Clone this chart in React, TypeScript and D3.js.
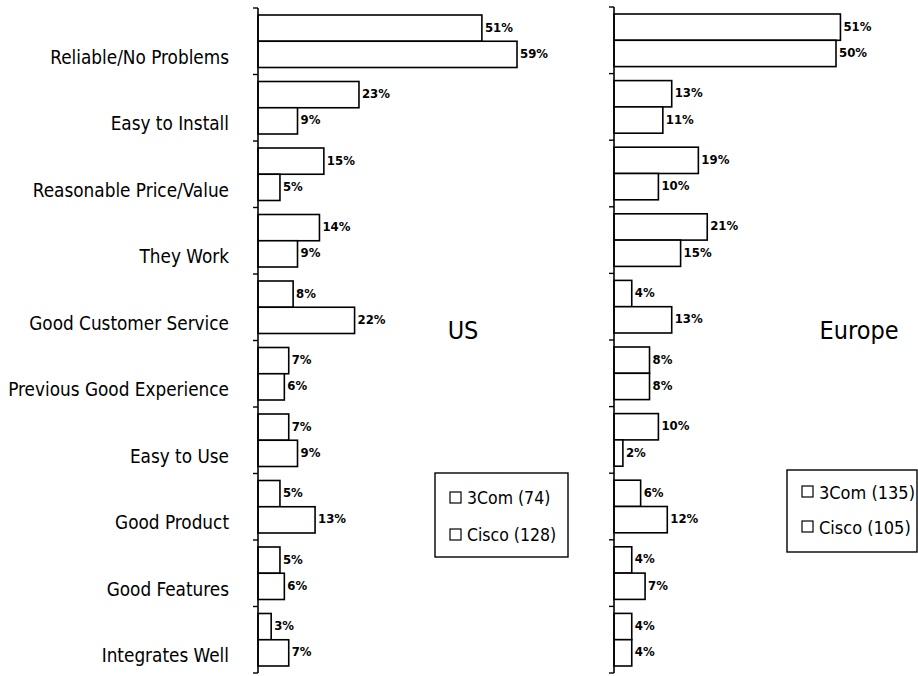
import React from "react";
import * as d3 from "d3";

const categories = [
  "Reliable/No Problems",
  "Easy to Install",
  "Reasonable Price/Value",
  "They Work",
  "Good Customer Service",
  "Previous Good Experience",
  "Easy to Use",
  "Good Product",
  "Good Features",
  "Integrates Well",
];
const series = ["3Com", "Cisco"];
const us3Com = [51, 23, 15, 14, 8, 7, 7, 5, 5, 3];
const usCisco = [59, 9, 5, 9, 22, 6, 9, 13, 6, 7];
const eu3Com = [51, 13, 19, 21, 4, 8, 10, 6, 4, 4];
const euCisco = [50, 11, 10, 15, 13, 8, 2, 12, 7, 4];
const usLegend = ["3Com (74)", "Cisco (128)"];
const euLegend = ["3Com (135)", "Cisco (105)"];

const W = 918;
const H = 676;
const LABEL_FONT = "'DejaVu Sans Condensed', 'DejaVu Sans', sans-serif";

type PanelProps = {
  x0: number;
  top: number;
  bottom: number;
  pxPerPct: number;
  a: number[];
  b: number[];
};

function Panel({ x0, top, bottom, pxPerPct, a, b }: PanelProps) {
  const y = d3.scaleBand<string>().domain(categories).range([top, bottom]).padding(0);
  const bw = y.bandwidth();
  const inner = d3.scaleBand<string>().domain(series).range([7, bw - 7]).padding(0);
  const x = d3.scaleLinear().domain([0, 60]).range([x0, x0 + 60 * pxPerPct]);
  const ticks = categories.map((c) => y(c)!).concat([bottom]);
  return (
    <g>
      {categories.map((c, i) =>
        [a[i], b[i]].map((v, j) => {
          const by = y(c)! + inner(series[j])!;
          const h = inner.bandwidth();
          return (
            <g key={c + j}>
              <rect
                x={x(0)}
                y={by}
                width={x(v) - x(0)}
                height={h}
                fill="white"
                stroke="black"
                strokeWidth={1.6}
              />
              <text
                x={x(v) + 3}
                y={by + h / 2 - 1}
                dominantBaseline="central"
                fontFamily={LABEL_FONT}
                fontWeight="bold"
                fontSize={13}
              >
                {v}%
              </text>
            </g>
          );
        })
      )}
      <line x1={x0} x2={x0} y1={top} y2={bottom} stroke="black" strokeWidth={1.6} />
      {ticks.map((t, i) => (
        <line key={i} x1={x0 - 5} x2={x0} y1={t} y2={t} stroke="black" strokeWidth={1.4} />
      ))}
    </g>
  );
}

function Legend({ x, y, w, h, items, rowY, fs }: { x: number; y: number; w: number; h: number; items: string[]; rowY: number[]; fs: number }) {
  return (
    <g>
      <rect x={x} y={y} width={w} height={h} fill="white" stroke="black" strokeWidth={1.4} />
      {items.map((t, i) => (
        <g key={t}>
          <rect x={x + 15} y={rowY[i] - 6} width={11} height={11} fill="white" stroke="black" strokeWidth={1.2} />
          <text x={x + 32} y={rowY[i]} dominantBaseline="central" fontFamily={LABEL_FONT} fontSize={fs}>
            {t}
          </text>
        </g>
      ))}
    </g>
  );
}

export default function App() {
  const yUS = d3.scaleBand<string>().domain(categories).range([8, 673]);
  return (
    <svg
      width={W}
      height={H}
      style={{ position: "absolute", left: 0, top: 0, display: "block", background: "white" }}
    >
      <rect x={0} y={0} width={W} height={H} fill="white" />
      {categories.map((c) => (
        <text
          key={c}
          x={229}
          y={yUS(c)! + yUS.bandwidth() / 2 + 16}
          textAnchor="end"
          dominantBaseline="central"
          fontFamily={LABEL_FONT}
          fontSize={18.8}
        >
          {c}
        </text>
      ))}
      <Panel x0={258} top={8} bottom={673} pxPerPct={4.39} a={us3Com} b={usCisco} />
      <Panel x0={614} top={7} bottom={673} pxPerPct={4.44} a={eu3Com} b={euCisco} />
      <text x={463} y={330} textAnchor="middle" dominantBaseline="central" fontFamily={LABEL_FONT} fontSize={25}>
        US
      </text>
      <text x={859} y={330} textAnchor="middle" dominantBaseline="central" fontFamily={LABEL_FONT} fontSize={25}>
        Europe
      </text>
      <Legend x={435} y={473} w={133} h={84} items={usLegend} rowY={[498, 535]} fs={17.5} />
      <Legend x={787} y={470} w={130} h={82} items={euLegend} rowY={[492, 527]} fs={18} />
    </svg>
  );
}
